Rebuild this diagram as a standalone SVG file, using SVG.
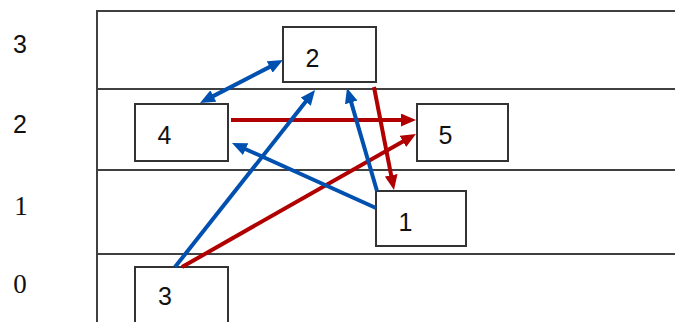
<svg xmlns="http://www.w3.org/2000/svg" width="675" height="322" viewBox="0 0 675 322">
<style>
.grid{stroke:#404040;stroke-width:2;fill:none}
.box{fill:#fff;stroke:#333;stroke-width:2}
.lbl{font-family:"Liberation Sans",Arial,sans-serif;font-size:25px;fill:#111;text-anchor:middle}
.row{fill:#111;text-anchor:middle}
.sans{font-family:"Liberation Sans",Arial,sans-serif;font-size:25px}
.serif{font-family:"Liberation Serif","Times New Roman",serif;font-size:27px}
.blue{stroke:#0050b0;stroke-width:4;fill:none}
.red{stroke:#b00000;stroke-width:4;fill:none}
</style>
<defs>
<marker id="ab" viewBox="0 0 15 13" refX="4" refY="6.5" markerWidth="15" markerHeight="13" markerUnits="userSpaceOnUse" orient="auto-start-reverse"><path d="M0,0 L15,6.5 L0,13 z" fill="#0050b0"/></marker>
<marker id="ar" viewBox="0 0 15 13" refX="4" refY="6.5" markerWidth="15" markerHeight="13" markerUnits="userSpaceOnUse" orient="auto-start-reverse"><path d="M0,0 L15,6.5 L0,13 z" fill="#b00000"/></marker>
</defs>
<rect width="675" height="322" fill="#fff"/>
<g id="grid">
<line class="grid" x1="97" y1="10" x2="97" y2="322"/>
<line class="grid" x1="97" y1="11" x2="675" y2="11"/>
<line class="grid" x1="97" y1="89" x2="675" y2="89"/>
<line class="grid" x1="97" y1="170" x2="675" y2="170"/>
<line class="grid" x1="97" y1="254" x2="675" y2="254"/>
</g>
<g id="row-labels">
<text class="row sans" x="20" y="53">3</text>
<text class="row sans" x="20" y="133">2</text>
<text class="row serif" x="21" y="215">1</text>
<text class="row serif" x="20" y="293">0</text>
</g>
<g id="node2"><rect class="box" x="283" y="27" width="93" height="55"/><text class="lbl" x="312.5" y="66.5">2</text></g>
<g id="node4"><rect class="box" x="135" y="104" width="93" height="57"/><text class="lbl" x="164.5" y="144">4</text></g>
<g id="node5"><rect class="box" x="417" y="104" width="91" height="57"/><text class="lbl" x="445.5" y="144">5</text></g>
<g id="node1"><rect class="box" x="376" y="191" width="90" height="55"/><text class="lbl" x="405.5" y="231">1</text></g>
<g id="node3"><rect class="box" x="135" y="267" width="93" height="60"/><text class="lbl" x="165" y="305">3</text></g>
<g id="connectors">
<line class="red" x1="231" y1="120" x2="405" y2="120" marker-end="url(#ar)"/>
<line class="red" x1="182" y1="267" x2="406.4" y2="139.4" marker-end="url(#ar)"/>
<line class="red" x1="374" y1="87" x2="391.9" y2="179.2" marker-end="url(#ar)"/>
<line class="blue" x1="209.8" y1="97.9" x2="273.2" y2="65.1" marker-start="url(#ab)" marker-end="url(#ab)"/>
<line class="blue" x1="175" y1="267" x2="308.2" y2="98.6" marker-end="url(#ab)"/>
<line class="blue" x1="376" y1="208" x2="242" y2="147.5" marker-end="url(#ab)"/>
<line class="blue" x1="377" y1="191" x2="350.1" y2="98.6" marker-end="url(#ab)"/>
</g>
</svg>
